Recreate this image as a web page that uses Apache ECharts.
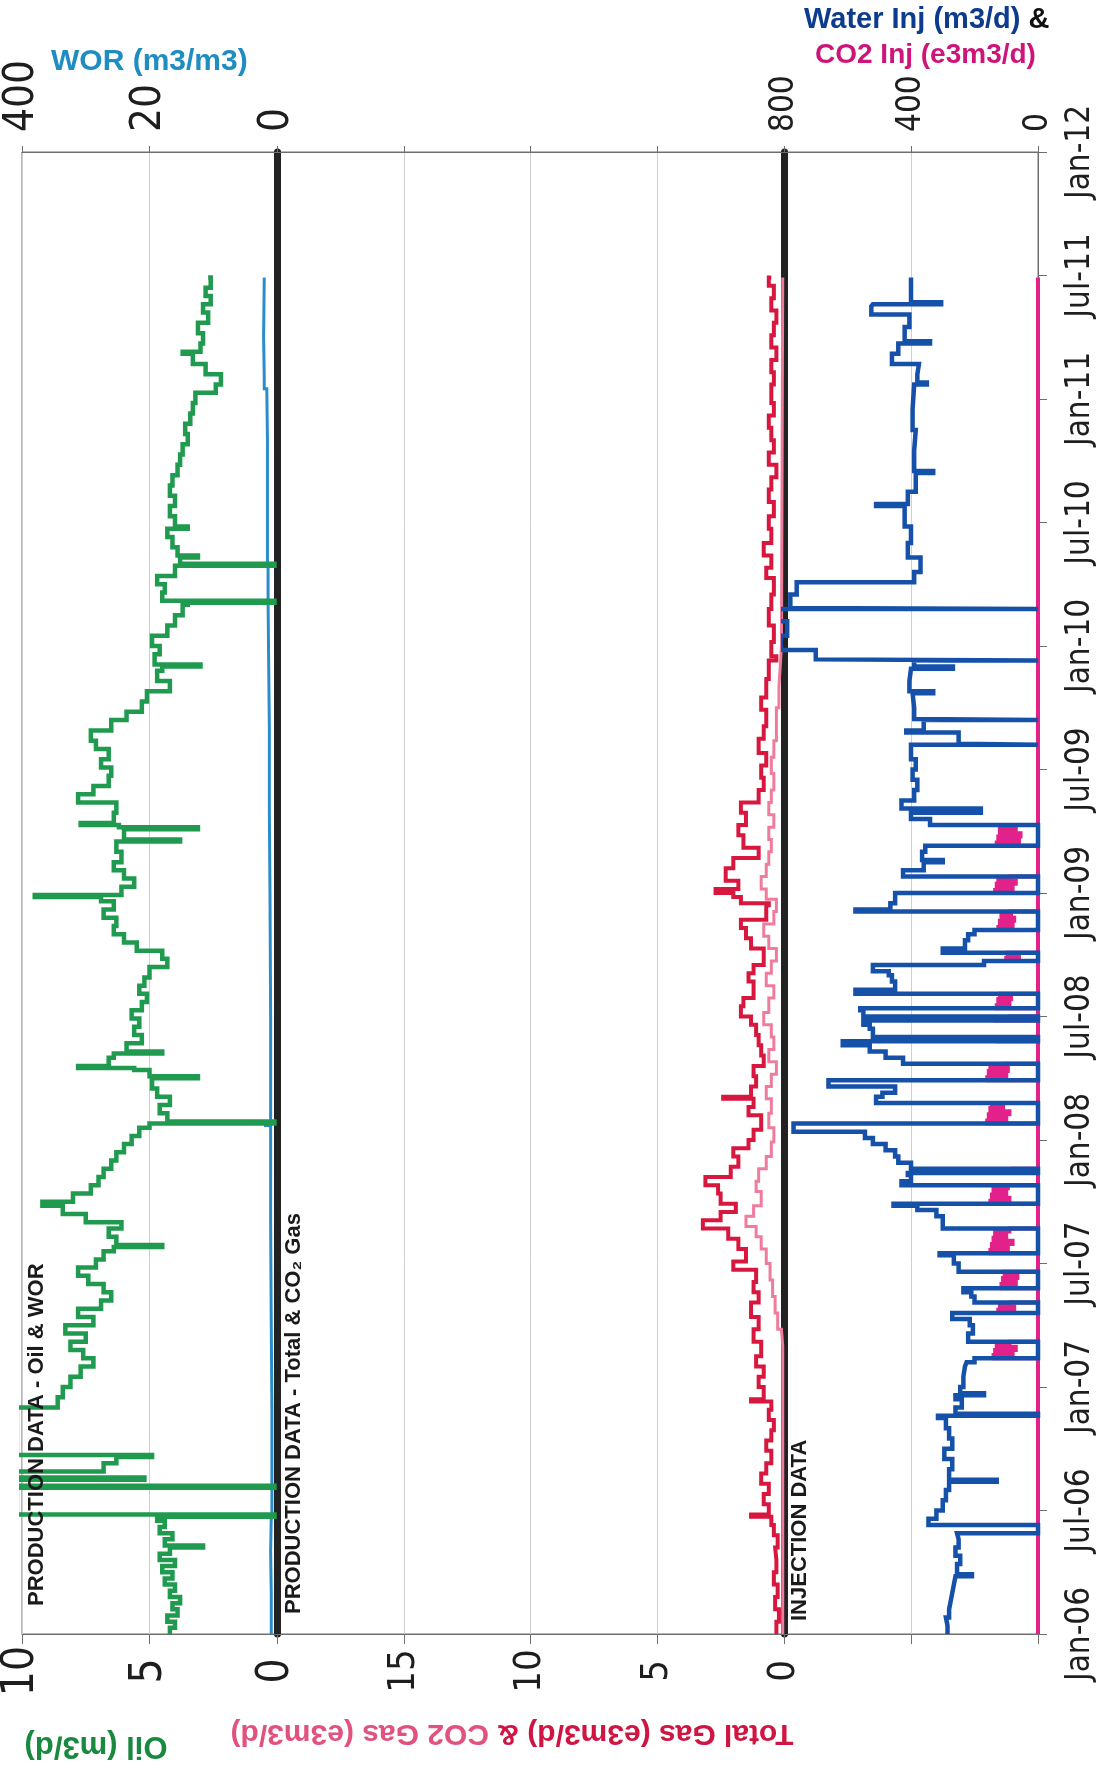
<!DOCTYPE html>
<html><head><meta charset="utf-8">
<script src="https://cdn.jsdelivr.net/npm/echarts@6/dist/echarts.min.js"></script>
<style>html,body{margin:0;padding:0;background:#fff}#c{width:1102px;height:1775px}</style>
</head><body><div id="c"></div>
<script>
// time in months since Jan-2006
const timeTickLabels = ['Jan-06','Jul-06','Jan-07','Jul-07','Jan-08','Jul-08','Jan-09','Jul-09','Jan-10','Jul-10','Jan-11','Jul-11','Jan-12'];
const worTickLabels = ['0','20','400'];

// [month, oil m3/d]
const oilData = [[0.0,4.2],[0.3,4.0],[0.6,4.3],[0.9,3.9],[1.2,4.1],[1.5,3.8],[1.8,4.2],[2.1,4.0],[2.4,4.4],[2.7,4.1],[3.0,4.5],[3.3,4.0],[3.6,4.6],[3.9,4.2],[4.2,2.9],[4.3,4.4],[4.6,4.1],[4.9,4.6],[5.2,4.4],[5.5,4.7],[5.7,0.1],[5.8,10.2],[7.1,0.1],[7.2,10.2],[7.5,5.2],[7.6,10.2],[7.9,6.8],[8.3,6.3],[8.6,4.9],[8.7,10.2],[11.0,8.6],[11.5,8.4],[12.0,8.1],[12.5,7.7],[13.0,7.2],[13.4,7.6],[13.8,8.1],[14.2,7.5],[14.6,8.3],[15.0,7.2],[15.4,7.8],[15.8,6.9],[16.2,6.5],[16.6,6.8],[17.0,7.4],[17.4,7.8],[17.8,7.1],[18.2,6.8],[18.6,6.4],[18.8,4.5],[18.9,6.3],[19.3,6.6],[19.7,6.1],[20.0,7.5],[20.4,8.4],[20.8,9.2],[21.0,8.0],[21.4,7.3],[21.8,7.0],[22.2,6.8],[22.6,6.5],[23.0,6.3],[23.4,6.0],[23.8,5.7],[24.2,5.4],[24.6,5.0],[24.8,0.1],[24.9,4.3],[25.3,4.6],[25.7,4.2],[26.1,4.7],[26.5,4.9],[27.0,3.1],[27.1,5.0],[27.4,5.6],[27.5,7.8],[27.6,6.6],[28.0,6.4],[28.2,4.5],[28.3,5.9],[28.7,5.3],[29.1,5.6],[29.5,5.4],[29.9,5.7],[30.3,5.3],[30.7,5.1],[31.1,5.4],[31.5,5.2],[31.9,5.0],[32.4,4.3],[32.8,4.5],[33.2,5.5],[33.6,6.0],[34.0,6.4],[34.4,6.3],[34.8,6.8],[35.2,6.4],[35.6,6.9],[35.8,9.5],[35.9,6.1],[36.3,5.6],[36.7,6.0],[37.1,6.4],[37.5,6.1],[38.0,6.3],[38.5,3.8],[38.6,6.0],[39.1,3.1],[39.2,6.2],[39.3,7.7],[39.4,6.4],[39.9,6.3],[40.4,7.8],[40.8,7.2],[41.2,6.6],[41.7,6.5],[42.1,6.9],[42.5,6.6],[43.0,7.1],[43.4,7.3],[43.9,6.5],[44.4,5.9],[44.8,5.3],[45.3,5.1],[45.8,4.2],[46.3,4.7],[46.8,4.5],[47.0,3.0],[47.1,4.8],[47.6,4.6],[48.0,4.9],[48.5,4.3],[49.0,4.0],[49.5,3.7],[50.0,3.5],[50.1,0.1],[50.2,4.5],[50.6,4.4],[51.0,4.7],[51.4,4.0],[51.9,0.1],[52.0,3.8],[52.3,3.1],[52.4,3.9],[52.8,4.1],[53.3,4.3],[53.7,3.5],[53.8,4.0],[54.3,4.2],[54.8,4.0],[55.3,4.2],[55.8,4.1],[56.3,3.9],[56.8,3.8],[57.3,3.7],[57.8,3.5],[58.3,3.6],[58.8,3.4],[59.3,3.3],[59.8,3.2],[60.3,2.4],[60.7,2.2],[61.2,2.8],[61.7,3.3],[62.2,3.7],[62.3,3.0],[62.7,2.9],[63.2,3.1],[63.7,2.7],[64.2,2.9],[64.6,2.6],[65.0,2.8],[65.4,2.6],[65.9,2.7]];

// [month, WOR m3/m3]
const worData = [[0,0.9],[2.0,1.0],[4.0,0.9],[5.7,1.6],[5.8,0.8],[7.1,1.4],[7.2,0.8],[11.0,0.9],[15.0,1.0],[20.0,1.0],[24.7,1.8],[24.8,1.0],[30.0,1.1],[36.0,1.2],[40.0,1.2],[44.0,1.3],[47.0,1.4],[50.1,2.2],[50.2,1.4],[51.9,2.0],[52.0,1.5],[54.0,1.5],[58.0,1.6],[60.5,2.0],[61.0,2.1],[63.0,2.0],[65.9,2.1]];

// [month, total gas e3m3/d]
const gasData = [[0,0.3],[0.6,0.2],[1.2,0.35],[1.8,0.25],[2.4,0.4],[3.0,0.3],[3.6,0.35],[4.2,0.25],[4.8,0.4],[5.3,0.5],[5.7,1.3],[5.8,0.6],[6.3,0.8],[6.8,0.6],[7.3,0.9],[7.8,0.7],[8.3,0.5],[8.9,0.7],[9.4,0.5],[9.9,0.4],[10.4,0.6],[10.9,0.5],[11.3,1.3],[11.4,0.8],[12.0,1.0],[12.5,0.8],[13.0,1.1],[13.5,0.9],[14.2,1.2],[14.8,1.0],[15.4,1.3],[16.1,1.0],[16.6,1.2],[17.1,1.1],[17.7,2.0],[18.1,1.5],[18.7,1.8],[19.2,2.2],[19.7,3.2],[20.1,2.5],[20.5,1.9],[20.9,2.5],[21.4,2.6],[21.8,3.1],[22.2,2.1],[22.7,1.8],[23.2,2.0],[23.6,1.4],[24.0,1.2],[24.5,0.9],[25.2,1.4],[25.6,1.2],[26.0,2.4],[26.1,1.3],[26.6,1.1],[27.1,1.2],[27.6,0.8],[28.1,0.9],[28.6,1.0],[29.1,1.1],[29.6,1.3],[30.0,1.7],[30.5,1.6],[30.9,1.2],[31.7,1.4],[32.1,1.2],[32.5,0.8],[33.3,1.3],[33.8,1.5],[34.3,1.7],[34.7,0.7],[35.4,0.6],[35.5,1.7],[35.8,2.0],[36.0,2.7],[36.2,1.8],[36.6,2.3],[37.2,2.0],[37.7,1.0],[38.2,1.6],[38.8,1.8],[39.3,1.5],[39.9,1.7],[40.4,1.0],[41.0,0.8],[41.6,0.9],[42.2,0.7],[42.8,1.0],[43.5,0.8],[44.1,0.7],[44.9,0.9],[45.5,0.7],[46.4,0.6],[47.3,0.3],[47.5,0.5],[48.2,0.4],[49.0,0.6],[49.8,0.5],[50.5,0.4],[51.3,0.7],[51.8,0.5],[52.4,0.8],[53.0,0.5],[53.7,0.6],[54.3,0.4],[55.0,0.6],[55.6,0.5],[56.2,0.3],[56.8,0.6],[57.4,0.4],[58.0,0.5],[58.6,0.6],[59.2,0.4],[59.8,0.5],[60.7,0.4],[61.3,0.5],[61.9,0.3],[62.5,0.5],[63.1,0.4],[63.7,0.3],[64.3,0.5],[64.9,0.4],[65.5,0.6],[65.9,0.5]];

// [month, CO2 gas e3m3/d]
const co2GasData = [[0,0.05],[14.0,0.1],[14.8,0.25],[15.6,0.35],[16.4,0.45],[17.2,0.55],[18.0,0.7],[18.7,0.9],[19.3,1.1],[19.8,1.5],[20.3,1.2],[20.8,0.9],[21.5,1.1],[22.0,1.0],[22.6,0.7],[23.2,0.5],[23.9,0.4],[24.6,0.6],[25.3,0.5],[26.0,0.7],[26.6,0.5],[27.2,0.3],[27.8,0.6],[28.4,0.4],[29.0,0.5],[29.6,0.8],[30.2,0.6],[30.9,0.4],[31.5,0.7],[32.1,0.5],[32.7,0.3],[33.3,0.6],[33.9,0.8],[34.5,0.4],[35.1,0.3],[35.7,0.7],[36.2,0.9],[36.8,0.7],[37.4,0.6],[38.0,0.5],[38.6,0.6],[39.2,0.4],[39.8,0.6],[40.4,0.5],[41.0,0.4],[41.8,0.5],[42.6,0.4],[43.4,0.3],[44.2,0.3],[45.0,0.2],[46.0,0.15],[47.0,0.1],[48.0,0.05],[65.9,0.05]];

// [month, water injection m3/d]
const waterInjData = [[0.0,285],[0.4,290],[0.8,280],[1.2,275],[1.6,270],[2.0,265],[2.4,260],[2.8,208],[2.9,255],[3.4,245],[3.8,260],[4.2,250],[4.6,255],[4.9,0],[5.3,345],[5.6,320],[6.0,300],[6.5,290],[7.0,280],[7.4,130],[7.5,280],[8.0,270],[8.5,295],[9.0,270],[9.5,280],[10.0,290],[10.5,315],[10.6,0],[10.7,260],[11.0,240],[11.4,260],[11.6,170],[11.7,245],[12.0,235],[12.5,230],[13.0,225],[13.2,200],[13.4,0],[14.2,220],[14.6,205],[15.0,215],[15.3,270],[15.6,0],[16.1,200],[16.4,210],[16.6,235],[16.8,0],[17.6,250],[18.0,265],[18.4,310],[18.5,0],[19.7,300],[20.0,300],[20.3,320],[20.6,380],[20.8,455],[20.9,0],[21.8,430],[22.0,400],[22.3,410],[22.4,0],[22.6,400],[22.9,440],[23.2,450],[23.5,480],[23.8,520],[24.1,545],[24.4,770],[24.8,0],[25.8,510],[26.1,490],[26.3,450],[26.6,660],[26.9,0],[27.7,425],[28.0,480],[28.3,530],[28.6,615],[28.8,0],[29.0,520],[29.4,530],[29.6,550],[29.8,0],[30.0,550],[30.3,560],[30.4,0],[31.1,575],[31.3,450],[31.7,460],[32.0,470],[32.2,520],[32.5,170],[32.7,0],[33.1,300],[33.3,230],[33.7,220],[34.0,200],[34.2,0],[35.1,575],[35.2,465],[35.5,450],[36.0,0],[36.8,425],[37.1,360],[37.5,300],[37.6,365],[38.0,355],[38.3,0],[39.3,340],[39.6,400],[39.9,180],[40.1,430],[40.5,390],[41.0,380],[41.5,395],[42.0,385],[42.5,400],[43.2,0],[43.25,250],[43.8,415],[43.9,360],[44.4,0],[44.45,390],[45.0,395],[45.7,330],[45.8,405],[46.3,400],[46.9,268],[47.0,390],[47.3,0],[47.35,700],[47.8,810],[48.5,790],[49.2,815],[49.8,0],[49.85,780],[50.5,760],[51.1,390],[51.6,370],[52.3,410],[53.0,400],[53.8,420],[54.8,510],[54.9,410],[55.5,385],[56.4,330],[56.5,390],[57.5,385],[58.5,395],[59.5,390],[60.7,350],[60.8,380],[61.2,375],[61.7,460],[62.2,440],[62.7,340],[62.8,420],[63.5,405],[64.1,525],[64.5,520],[64.6,305],[64.7,400],[65.2,400],[65.9,400]];

// [month, CO2 injection e3m3/d]
const co2InjData = [[0,0],
  [13.4,140],[13.55,80],[13.65,135],[13.8,70],[13.95,130],[14.1,90],[14.2,0],
  [15.6,125],[15.75,75],[15.9,120],[16.0,85],[16.1,0],
  [16.8,115],[17.0,70],[17.15,110],[17.3,65],[17.45,105],[17.6,0],
  [18.5,150],[18.65,95],[18.8,145],[18.95,80],[19.1,140],[19.25,100],[19.4,135],[19.55,90],[19.7,0],
  [20.9,150],[21.05,90],[21.2,145],[21.35,100],[21.5,140],[21.65,95],[21.8,0],
  [22.4,120],[22.5,80],[22.6,0],
  [24.8,160],[24.95,100],[25.1,155],[25.25,90],[25.4,150],[25.55,110],[25.7,145],[25.8,0],
  [26.9,160],[27.05,100],[27.2,155],[27.35,95],[27.5,150],[27.6,110],[27.7,0],
  [28.8,125],[28.9,80],[29.0,0],
  [29.8,135],[29.9,90],[30.0,0],
  [30.4,130],[30.55,90],[30.7,125],[30.85,85],[31.0,120],[31.1,0],
  [32.7,100],[32.85,60],[33.0,95],[33.1,0],
  [34.2,125],[34.35,80],[34.5,120],[34.65,75],[34.8,115],[34.95,85],[35.1,0],
  [36.0,135],[36.15,80],[36.3,130],[36.45,70],[36.6,125],[36.7,90],[36.8,0],
  [38.3,130],[38.45,60],[38.6,125],[38.75,55],[38.9,120],[39.05,70],[39.2,120],[39.3,0],
  [65.9,0]];

const NARROW = "'Liberation Sans Narrow', 'DejaVu Sans Condensed', 'Liberation Sans', sans-serif";
const SANS = "'Liberation Sans', Arial, sans-serif";
const toXY = d => d.map(p => [p[1], p[0]]);

const frame = {show: true, onZero: false, lineStyle: {color: '#6e6e6e', width: 1}};
const tickStyle = {color: '#6e6e6e', width: 1};

function xAx(grid, pos, max, interval, label, split) {
  return {
    gridIndex: grid, type: 'value', position: pos, min: 0, max: max, interval: interval, inverse: true,
    axisLine: frame,
    axisTick: {show: true, length: pos === 'top' ? 6 : 10, lineStyle: tickStyle},
    axisLabel: label,
    splitLine: {show: split, lineStyle: {color: '#cfcfcf', width: 1}}
  };
}
const labBottom = (size, fmt) => ({show: true, rotate: 90, align: 'center', verticalAlign: 'middle', margin: 37, fontSize: size, fontFamily: NARROW, color: '#1e1e1e', formatter: fmt});
// top axis: ECharts negates the rotation for top axes, so -90 gives text reading bottom-to-top
const labTop = (size, fmt) => ({show: true, rotate: -90, align: 'left', verticalAlign: 'middle', margin: 20, fontSize: size, fontFamily: NARROW, color: '#1e1e1e', formatter: fmt});

function yAx(grid, black) {
  return {
    gridIndex: grid, type: 'value', position: 'right', min: 0, max: 72, interval: 6,
    axisLine: black ? {show: true, onZero: false, lineStyle: {color: '#222', width: 7}} : frame,
    axisTick: black ? {show: false} : {show: true, length: 9, lineStyle: tickStyle},
    axisLabel: black ? {show: false} : {show: true, rotate: 90, align: 'center', verticalAlign: 'middle', margin: 42, fontSize: 33, fontFamily: NARROW, color: '#1e1e1e', formatter: v => timeTickLabels[Math.round(v / 6)]},
    splitLine: {show: false}
  };
}

function stepLine(name, data, xi, yi, color, width, clip, z) {
  return {name, type: 'line', xAxisIndex: xi, yAxisIndex: yi, data: toXY(data), step: 'start', showSymbol: false, symbol: 'none',
    clip: clip, z: z, animation: false, lineStyle: {color, width, join: 'miter'}};
}

const chart = echarts.init(document.getElementById('c'), null, {renderer: 'canvas'});
chart.setOption({
  backgroundColor: '#fff',
  animation: false,
  grid: [
    {left: 21, top: 152, width: 256, height: 1482, show: true, borderColor: '#6e6e6e', borderWidth: 1},
    {left: 277, top: 152, width: 507, height: 1482, show: true, borderColor: '#6e6e6e', borderWidth: 1},
    {left: 784, top: 152, width: 254, height: 1482, show: true, borderColor: '#6e6e6e', borderWidth: 1}
  ],
  xAxis: [
    xAx(0, 'bottom', 10, 5, labBottom(44), true),
    xAx(0, 'top', 40, 20, labTop(42, v => worTickLabels[Math.round(v / 20)]), false),
    xAx(1, 'bottom', 20, 5, labBottom(38, v => v === 20 ? '' : String(v)), true),
    xAx(1, 'top', 20, 5, {show: false}, false),
    xAx(2, 'top', 800, 400, labTop(33), true),
    xAx(2, 'bottom', 800, 400, {show: false}, false)
  ],
  yAxis: [yAx(0, true), yAx(1, true), yAx(2, false)],
  series: [
    stepLine('WOR (m3/m3)', worData, 1, 0, '#2a8dcb', 3, true, 3),
    stepLine('Oil (m3/d)', oilData, 0, 0, '#1f9a4e', 4.5, false, 4),
    stepLine('CO2 Gas (e3m3/d)', co2GasData, 2, 1, '#ef7c9c', 3, true, 3),
    stepLine('Total Gas (e3m3/d)', gasData, 2, 1, '#d8173f', 4, true, 4),
    stepLine('CO2 Inj (e3m3/d)', co2InjData, 4, 2, '#e3218a', 4, false, 3),
    stepLine('Water Inj (m3/d)', waterInjData, 4, 2, '#1651a9', 4.5, false, 5)
  ],
  graphic: [
    {type: 'text', x: 51, y: 62, z: 10, style: {text: 'WOR (m3/m3)', fill: '#1f8cc2', font: 'bold 30px ' + SANS, align: 'left', verticalAlign: 'middle'}},
    {type: 'text', x: 804, y: 20, z: 10, style: {text: '{a|Water Inj (m3/d)}{b| &}', align: 'left', verticalAlign: 'middle',
      rich: {a: {fill: '#0d3c8e', fontSize: 29, fontWeight: 'bold', fontFamily: SANS}, b: {fill: '#111', fontSize: 29, fontWeight: 'bold', fontFamily: SANS}}}},
    {type: 'text', x: 815, y: 55, z: 10, style: {text: 'CO2 Inj (e3m3/d)', fill: '#cc1479', font: 'bold 28px ' + SANS, align: 'left', verticalAlign: 'middle'}},
    {type: 'text', x: 96, y: 1746, rotation: Math.PI, z: 10, style: {text: 'Oil (m3/d)', fill: '#19893f', font: 'bold 31px ' + SANS, align: 'center', verticalAlign: 'middle'}},
    {type: 'text', x: 512, y: 1733, rotation: Math.PI, z: 10, style: {text: '{a|Total Gas (e3m3/d) & }{b|CO2 Gas (e3m3/d)}', align: 'center', verticalAlign: 'middle',
      rich: {a: {fill: '#cf1542', fontSize: 30, fontWeight: 'bold', fontFamily: SANS}, b: {fill: '#e2527f', fontSize: 30, fontWeight: 'bold', fontFamily: SANS}}}},
    {type: 'text', x: 37, y: 1606, rotation: Math.PI / 2, z: 10, style: {text: 'PRODUCTION DATA - Oil & WOR', fill: '#1a1a1a', font: 'bold 22px ' + SANS, align: 'left', verticalAlign: 'middle'}},
    {type: 'text', x: 294, y: 1614, rotation: Math.PI / 2, z: 10, style: {text: 'PRODUCTION DATA - Total & CO\u2082 Gas', fill: '#1a1a1a', font: 'bold 22px ' + SANS, align: 'left', verticalAlign: 'middle'}},
    {type: 'text', x: 800, y: 1621, rotation: Math.PI / 2, z: 10, style: {text: 'INJECTION DATA', fill: '#1a1a1a', font: 'bold 22px ' + SANS, align: 'left', verticalAlign: 'middle'}}
  ]
});
</script>
</body></html>
